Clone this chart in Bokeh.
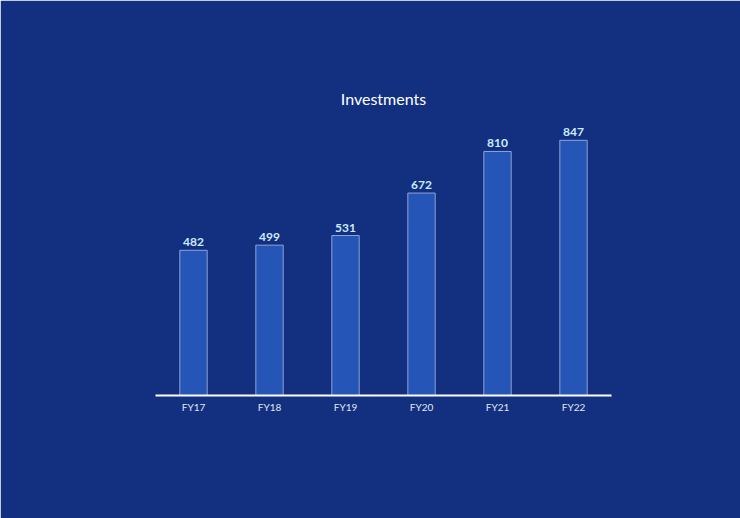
from bokeh.plotting import figure
from bokeh.models import ColumnDataSource, Range1d, FactorRange
from bokeh.core.properties import value
from bokeh.embed import file_html
from bokeh.resources import INLINE

categories = ["FY17", "FY18", "FY19", "FY20", "FY21", "FY22"]
values = [482, 499, 531, 672, 810, 847]
labels = [str(v) for v in values]

src = ColumnDataSource(dict(cat=categories, val=values, lab=labels))

BG = "#12307f"
p = figure(x_range=FactorRange(*categories, range_padding=0),
           y_range=Range1d(0, 946),
           width=740, height=518, output_backend="svg", toolbar_location=None,
           title="Investments",
           background_fill_color=BG, border_fill_color=BG,
           outline_line_color=BG, outline_line_width=2,
           min_border_left=155, min_border_right=129, min_border_top=110, min_border_bottom=123)
p.title.align = "center"
p.title.text_color = "white"
p.title.text_font = "Lato"
p.title.text_font_size = "16px"
p.title.text_font_style = "normal"
p.title.standoff = 5

p.vbar(x="cat", top="val", width=0.36, source=src, fill_color="#2655b8",
       line_color="#8fa4d4", line_width=1)
p.text(x="cat", y="val", text="lab", source=src, text_align="center",
       text_baseline="bottom", y_offset=-4, text_font=value("Lato"),
       text_font_size="12px", text_font_style="bold", text_color="#cdeaff")

p.yaxis.visible = False
p.xgrid.visible = False
p.ygrid.visible = False
p.xaxis.axis_line_color = "white"
p.xaxis.axis_line_width = 2
p.xaxis.major_tick_line_color = None
p.xaxis.minor_tick_line_color = None
p.xaxis.major_tick_out = 0
p.xaxis.major_tick_in = 0
p.xaxis.major_label_text_color = "#e0e6f2"
p.xaxis.major_label_text_font = "Lato"
p.xaxis.major_label_text_font_size = "10px"
p.xaxis.major_label_standoff = 5

open("out.html", "w").write(file_html(p, INLINE))
